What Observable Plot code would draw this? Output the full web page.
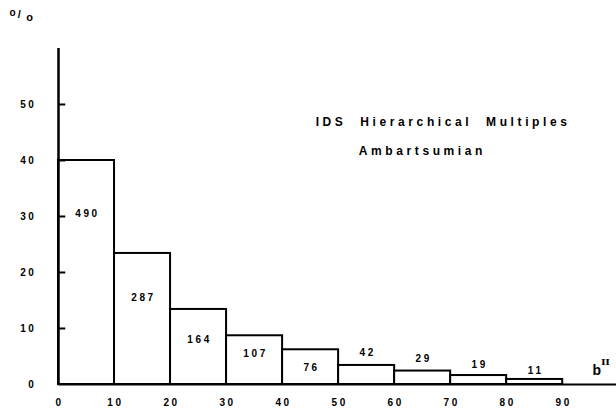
<!DOCTYPE html>
<html>
<head>
<meta charset="utf-8">
<script src="https://cdn.jsdelivr.net/npm/d3@7"></script>
<script src="https://cdn.jsdelivr.net/npm/@observablehq/plot@0.6"></script>
<style>
  html, body { margin: 0; padding: 0; background: #fff; }
</style>
</head>
<body>
<div id="chart"></div>
<script>
// bins of galactic latitude bII (degrees)
const binStart = [0, 10, 20, 30, 40, 50, 60, 70, 80];
const binEnd   = [10, 20, 30, 40, 50, 60, 70, 80, 90];
// percentage of systems per bin
const percent  = [40.0, 23.4, 13.4, 8.7, 6.2, 3.4, 2.4, 1.6, 0.9];
// counts printed on bars
const counts   = [490, 287, 164, 107, 76, 42, 29, 19, 11];
const yTicks = [0, 10, 20, 30, 40, 50];
const xTicks = [0, 10, 20, 30, 40, 50, 60, 70, 80, 90];
const titleLines = ["IDS  Hierarchical  Multiples", "Ambartsumian"];

const data = binStart.map((s, i) => ({x1: s, x2: binEnd[i], y: percent[i], n: counts[i]}));

// label placement: inside tall bars, above short ones
const labelY = [30.4, 15.5, 7.9, 5.4, 3.0, 5.7, 4.6, 3.6, 2.5];

const font = "'Liberation Sans', Arial, Helvetica, sans-serif";

const chart = Plot.plot({
  width: 616,
  height: 408,
  marginLeft: 58,
  marginRight: 0,
  marginTop: 48,
  marginBottom: 24,
  x: {domain: [0, 99.6], axis: null},
  y: {domain: [0, 60], axis: null},
  style: {fontFamily: font, fontWeight: "bold", fontSize: "10px", letterSpacing: "2.6px", color: "#000", background: "#fff", overflow: "visible"},
  marks: [
    Plot.rectY(data, {x1: "x1", x2: "x2", y: "y", fill: "white", stroke: "black", strokeWidth: 2}),
    Plot.ruleY([0], {x1: 0, x2: 99.6, stroke: "black", strokeWidth: 2}),
    Plot.ruleX([0], {y1: 0, y2: 60, stroke: "black", strokeWidth: 2.5}),
    Plot.ruleY(yTicks.filter(d => d > 0), {y: d => d, x1: 0, x2: 1.3, stroke: "black", strokeWidth: 2}),
    Plot.text(yTicks, {x: 0, y: d => d, dx: -22, textAnchor: "end", text: d => String(d), fill: "black"}),
    Plot.text(xTicks, {x: d => d, y: 0, dy: 18, dx: 1, text: d => String(d), fill: "black"}),
    Plot.text(data, {x: d => (d.x1 + d.x2) / 2, y: (d, i) => labelY[i], dx: 1, text: d => String(d.n), fill: "black"}),
    // "o/o" percent sign
    Plot.text(["o"], {x: -8.2, y: 66.3, text: d => d, fill: "black", fontSize: 10, className: "pct"}),
    Plot.text(["/"], {x: -7.0, y: 66.0, text: d => d, fill: "black", fontSize: 11, className: "pct"}),
    Plot.text(["o"], {x: -5.15, y: 65.6, text: d => d, fill: "black", fontSize: 11, className: "pct"}),
    Plot.text(["b"], {x: 95.3, y: 2.5, text: d => d, fill: "black", fontSize: 14, textAnchor: "start", className: "bsym"}),
    Plot.text(["II"], {x: 96.85, y: 4.0, text: d => d, fill: "black", fontSize: 8, fontFamily: "'Liberation Serif', serif", textAnchor: "start", className: "bsup"}),
    Plot.text([titleLines[0]], {x: 45.9, y: 46.8, text: d => d, fill: "black", fontSize: 12, textAnchor: "start", className: "title1"}),
    Plot.text([titleLines[1]], {x: 53.6, y: 41.6, text: d => d, fill: "black", fontSize: 12, textAnchor: "start", className: "title2"})
  ]
});

d3.select(chart).selectAll(".title1 text, .title2 text").style("letter-spacing", "3.6px").style("white-space", "pre");
d3.select(chart).selectAll(".bsym text, .pct text").style("letter-spacing", "0px");
d3.select(chart).selectAll(".bsup text").style("letter-spacing", "-0.3px").attr("transform", function() {
  const t = this.getAttribute("transform") || "";
  return t + " scale(1.5,1)";
});
document.getElementById("chart").appendChild(chart);
</script>
</body>
</html>
